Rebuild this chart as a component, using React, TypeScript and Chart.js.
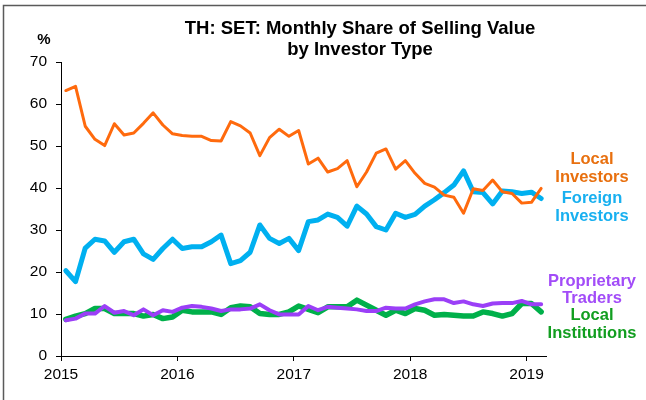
import React, { useEffect, useRef } from "react";
import { Chart, registerables } from "chart.js";

Chart.register(...registerables);

const TITLE_LINES = ["TH: SET: Monthly Share of Selling Value", "by Investor Type"];
const Y_UNIT = "%";
const YEAR_LABELS = ["2015", "2016", "2017", "2018", "2019"];
const YEAR_TICK_MONTHS = [0, 12, 24, 36, 48];

// Monthly values, Jan 2015 .. Feb 2019
const LOCAL_INVESTORS = [
  63.2, 64.2, 54.7, 51.6, 50.1, 55.3, 52.6, 53.1, 55.4, 57.9, 55.0, 52.9,
  52.5, 52.3, 52.3, 51.3, 51.2, 55.8, 54.8, 53.1, 47.7, 52.0, 54.0, 52.3,
  53.7, 45.7, 47.1, 43.8, 44.6, 46.5, 40.3, 43.8, 48.3, 49.3, 44.5, 46.5,
  43.5, 41.1, 40.2, 38.3, 37.8, 34.0, 39.8, 39.4, 41.9, 39.1, 38.7, 36.4,
  36.6, 39.9,
];
const FOREIGN_INVESTORS = [
  20.3, 17.7, 25.7, 27.8, 27.4, 24.7, 27.2, 27.8, 24.3, 23.0, 25.6, 27.8,
  25.6, 26.0, 26.0, 27.2, 28.8, 22.0, 22.7, 24.7, 31.2, 28.0, 26.8, 28.0,
  25.1, 32.0, 32.4, 33.8, 33.0, 30.9, 35.7, 33.8, 30.8, 30.0, 34.0, 33.0,
  33.7, 35.7, 37.2, 38.9, 40.7, 44.1, 39.1, 38.9, 36.2, 39.3, 39.1, 38.7,
  39.0, 37.5,
];
const PROPRIETARY_TRADERS = [
  8.5, 8.9, 10.1, 10.1, 11.9, 10.3, 10.7, 9.7, 11.1, 9.7, 10.9, 10.5,
  11.5, 11.9, 11.7, 11.3, 10.7, 11.1, 11.1, 11.3, 12.3, 10.9, 9.9, 9.9,
  9.9, 11.9, 10.9, 11.7, 11.5, 11.3, 11.1, 10.7, 10.7, 11.5, 11.3, 11.3,
  12.3, 13.0, 13.5, 13.5, 12.6, 13.0, 12.3, 11.9, 12.5, 12.6, 12.6, 13.1,
  12.3, 12.3,
];
const LOCAL_INSTITUTIONS = [
  8.7, 9.5, 10.1, 11.3, 11.3, 10.1, 10.1, 10.1, 9.5, 9.9, 8.9, 9.3,
  10.9, 10.5, 10.5, 10.5, 9.9, 11.5, 11.9, 11.7, 10.1, 9.9, 9.9, 10.5,
  11.9, 11.1, 10.3, 11.7, 11.7, 11.7, 13.3, 12.1, 10.9, 9.7, 10.9, 10.1,
  11.3, 10.9, 9.7, 9.9, 9.7, 9.5, 9.5, 10.5, 10.1, 9.5, 10.1, 12.5,
  12.5, 10.5,
];

const SERIES_NAMES = ["Local Investors", "Foreign Investors", "Proprietary Traders", "Local Institutions"];
const SERIES_LABEL_LINES = [
  ["Local", "Investors"],
  ["Foreign", "Investors"],
  ["Proprietary", "Traders"],
  ["Local", "Institutions"],
];

const FONT = '"Liberation Sans", Arial, Helvetica, sans-serif';

const toPoints = (arr: number[]) => arr.map((v, i) => ({ x: i + 0.5, y: v }));

export default function App() {
  const ref = useRef<HTMLCanvasElement | null>(null);

  useEffect(() => {
    document.body.style.margin = "0";
    const canvas = ref.current;
    if (!canvas) return;

    const labelStyles = [
      { color: "#E8700F", y: [159, 177] },
      { color: "#18B0F0", y: [198, 216] },
      { color: "#A24CF8", y: [281, 298] },
      { color: "#129E20", y: [315, 333] },
    ];

    const textPlugin = {
      id: "texts",
      afterDraw(chart: any) {
        const ctx = chart.ctx as CanvasRenderingContext2D;
        ctx.save();
        // frame
        ctx.strokeStyle = "#5a5a5a";
        ctx.lineWidth = 1.5;
        ctx.beginPath();
        ctx.moveTo(3.5, 400);
        ctx.lineTo(3.5, 5.5);
        ctx.lineTo(646, 5.5);
        ctx.stroke();

        ctx.fillStyle = "#000";
        ctx.textAlign = "center";
        ctx.textBaseline = "middle";
        ctx.font = `bold 18.5px ${FONT}`;
        ctx.fillText(TITLE_LINES[0], 360, 29);
        ctx.fillText(TITLE_LINES[1], 360, 50);
        ctx.font = `bold 15px ${FONT}`;
        ctx.fillText(Y_UNIT, 44, 40);

        ctx.font = `bold 16.5px ${FONT}`;
        SERIES_LABEL_LINES.forEach((lines, i) => {
          ctx.fillStyle = labelStyles[i].color;
          lines.forEach((t, j) => ctx.fillText(t, 592, labelStyles[i].y[j]));
        });
        ctx.restore();
      },
    };

    const chart = new Chart(canvas, {
      type: "line",
      data: {
        datasets: [
          {
            label: SERIES_NAMES[0],
            data: toPoints(LOCAL_INVESTORS),
            borderColor: "#FF6A0D",
            borderWidth: 3,
          },
          {
            label: SERIES_NAMES[1],
            data: toPoints(FOREIGN_INVESTORS),
            borderColor: "#00B0F0",
            borderWidth: 5,
          },
          {
            label: SERIES_NAMES[2],
            data: toPoints(PROPRIETARY_TRADERS),
            borderColor: "#9B3FF7",
            borderWidth: 4,
          },
          {
            label: SERIES_NAMES[3],
            data: toPoints(LOCAL_INSTITUTIONS),
            borderColor: "#00B04A",
            borderWidth: 5.5,
          },
        ].map((d) => ({
          ...d,
          pointRadius: 0,
          pointHoverRadius: 0,
          tension: 0,
          fill: false,
          borderJoinStyle: "round" as const,
          borderCapStyle: "round" as const,
        })),
      },
      options: {
        responsive: false,
        animation: false,
        events: [],
        layout: { padding: { left: 0, top: 62, right: 100, bottom: 0 } },
        plugins: {
          legend: { display: false },
          title: { display: false },
          tooltip: { enabled: false },
        },
        scales: {
          x: {
            type: "linear",
            min: 0,
            max: 50,
            afterBuildTicks(scale: any) {
              scale.ticks = YEAR_TICK_MONTHS.map((v) => ({ value: v }));
            },
            afterFit(scale: any) {
              scale.height = 44;
            },
            ticks: {
              color: "#000",
              font: { family: FONT, size: 15.5 },
              padding: 4,
              maxRotation: 0,
              autoSkip: false,
              callback: (v: any) => {
                const idx = YEAR_TICK_MONTHS.indexOf(Number(v));
                return idx >= 0 ? YEAR_LABELS[idx] : "";
              },
            },
            grid: {
              display: true,
              drawOnChartArea: false,
              drawTicks: true,
              tickLength: 5,
              color: "#000",
              lineWidth: 1,
            },
            border: { display: true, color: "#000", width: 1 },
          },
          y: {
            min: 0,
            max: 70,
            afterFit(scale: any) {
              scale.width = 61;
            },
            ticks: {
              stepSize: 10,
              color: "#000",
              font: { family: FONT, size: 15.5 },
              padding: 9,
            },
            grid: {
              display: true,
              drawOnChartArea: false,
              drawTicks: true,
              tickLength: 5,
              color: "#000",
              lineWidth: 1,
            },
            border: { display: true, color: "#000", width: 1 },
          },
        },
      },
      plugins: [textPlugin],
    } as any);

    return () => chart.destroy();
  }, []);

  return (
    <div style={{ width: 646, height: 400, background: "#fff" }}>
      <canvas ref={ref} width={646} height={400} style={{ display: "block" }} />
    </div>
  );
}
